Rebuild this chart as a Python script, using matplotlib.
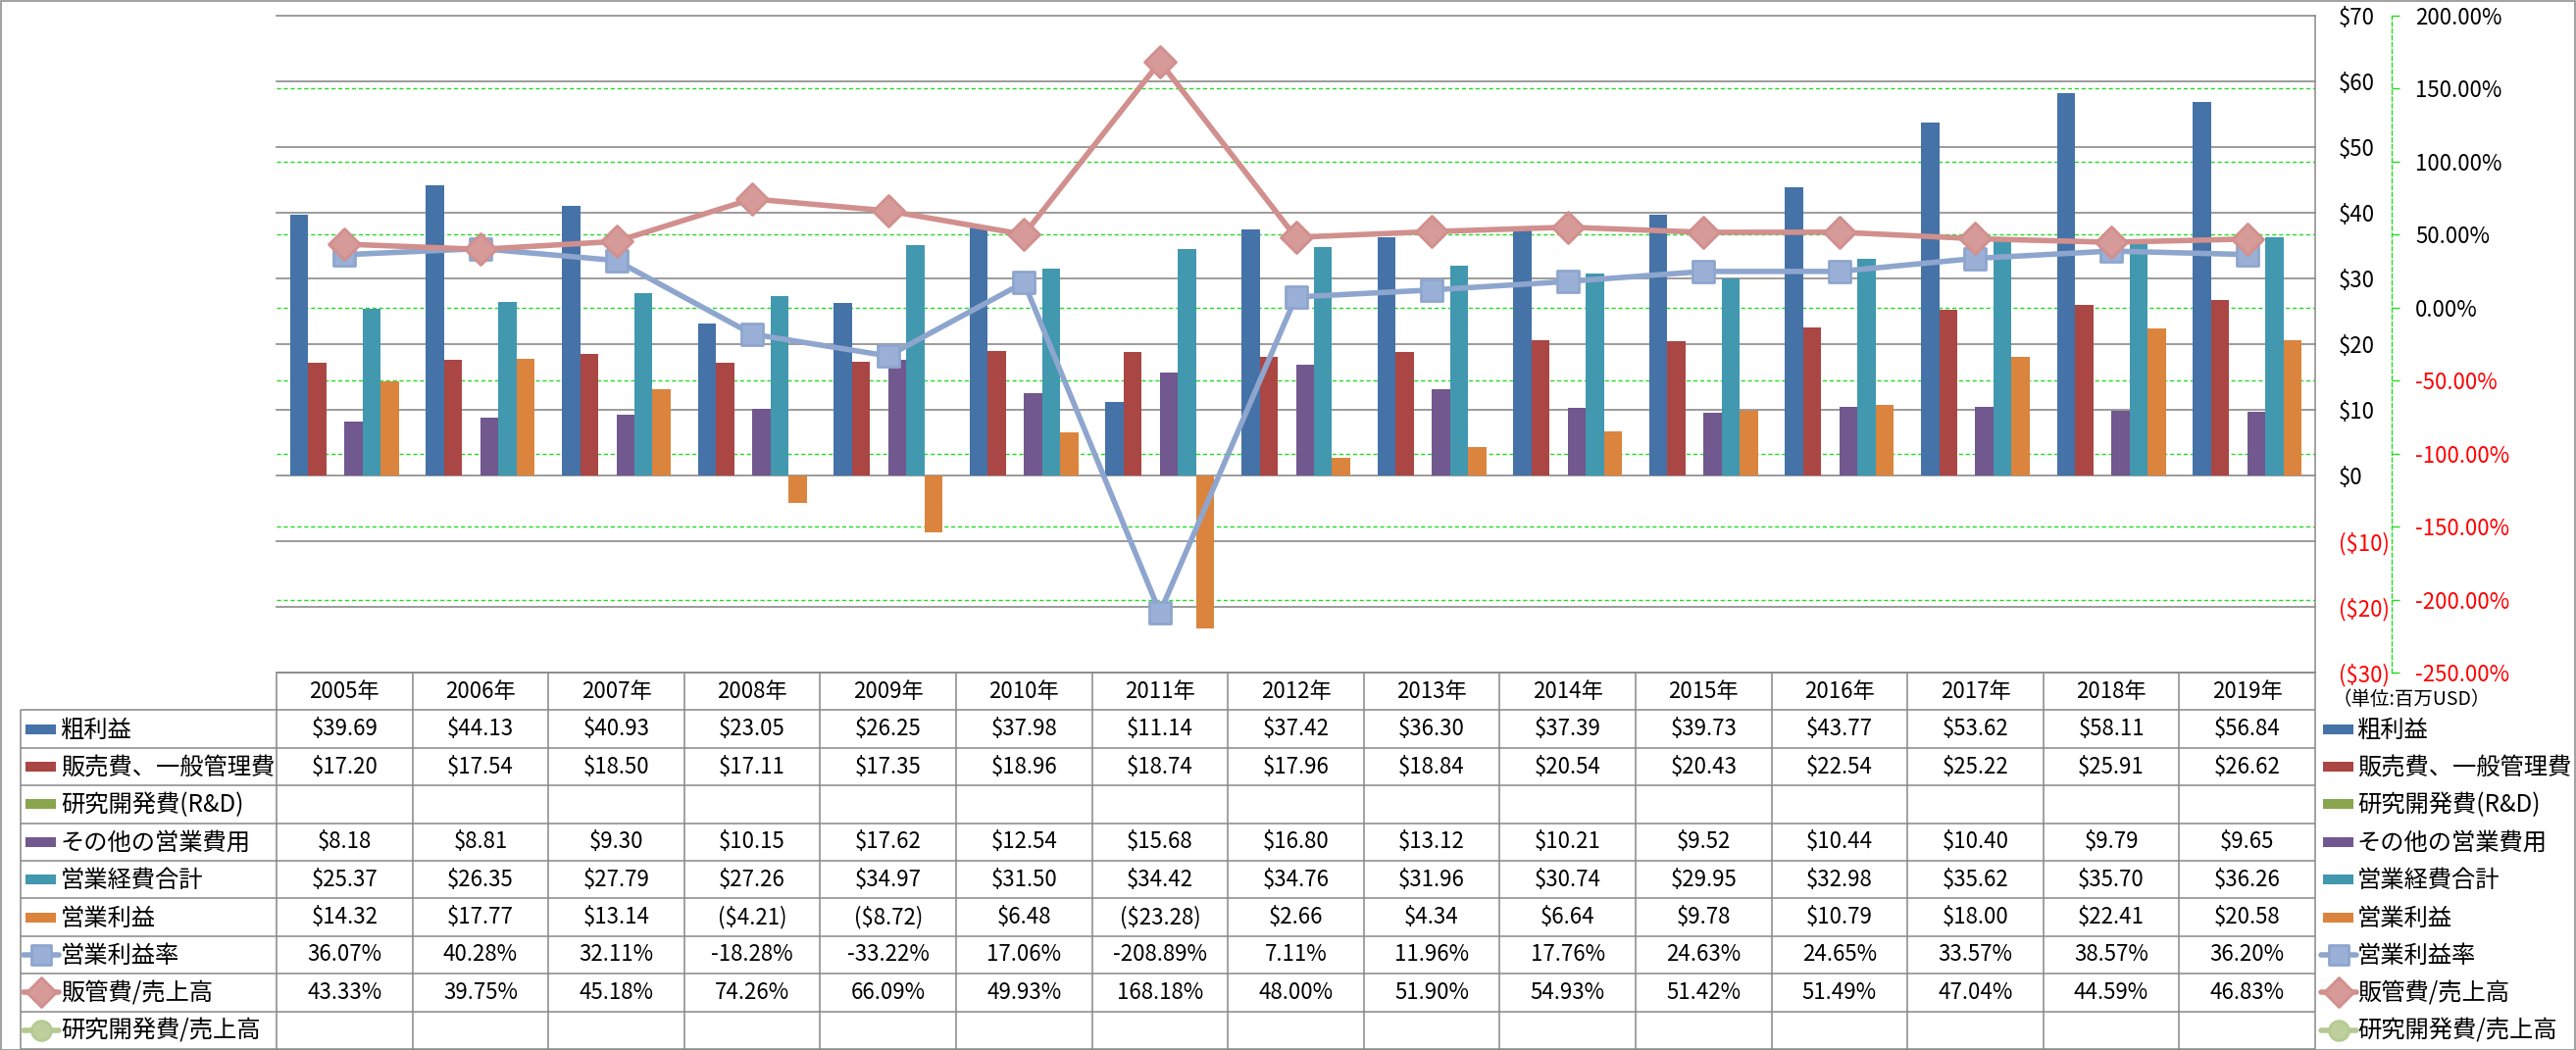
import numpy as np
import matplotlib
matplotlib.use("Agg")
import matplotlib.pyplot as plt
from matplotlib.patches import Rectangle
from matplotlib.lines import Line2D
from matplotlib.markers import MarkerStyle

plt.rcParams['font.family'] = ['Noto Sans CJK JP', 'DejaVu Sans']
plt.rcParams['text.parse_math'] = False

# ---------------- data ----------------
years = ["2005年", "2006年", "2007年", "2008年", "2009年", "2010年", "2011年", "2012年",
         "2013年", "2014年", "2015年", "2016年", "2017年", "2018年", "2019年"]
gross_profit = [39.69, 44.13, 40.93, 23.05, 26.25, 37.98, 11.14, 37.42, 36.30, 37.39, 39.73, 43.77, 53.62, 58.11, 56.84]
sga = [17.20, 17.54, 18.50, 17.11, 17.35, 18.96, 18.74, 17.96, 18.84, 20.54, 20.43, 22.54, 25.22, 25.91, 26.62]
rnd = [None] * 15
other_opex = [8.18, 8.81, 9.30, 10.15, 17.62, 12.54, 15.68, 16.80, 13.12, 10.21, 9.52, 10.44, 10.40, 9.79, 9.65]
total_opex = [25.37, 26.35, 27.79, 27.26, 34.97, 31.50, 34.42, 34.76, 31.96, 30.74, 29.95, 32.98, 35.62, 35.70, 36.26]
op_income = [14.32, 17.77, 13.14, -4.21, -8.72, 6.48, -23.28, 2.66, 4.34, 6.64, 9.78, 10.79, 18.00, 22.41, 20.58]
op_margin = [36.07, 40.28, 32.11, -18.28, -33.22, 17.06, -208.89, 7.11, 11.96, 17.76, 24.63, 24.65, 33.57, 38.57, 36.20]
sga_ratio = [43.33, 39.75, 45.18, 74.26, 66.09, 49.93, 168.18, 48.00, 51.90, 54.93, 51.42, 51.49, 47.04, 44.59, 46.83]
rnd_ratio = [None] * 15

bar_names = ["粗利益", "販売費、一般管理費", "研究開発費(R&D)", "その他の営業費用", "営業経費合計", "営業利益"]
line_names = ["営業利益率", "販管費/売上高", "研究開発費/売上高"]
dollar_ticks = list(range(-30, 71, 10))
pct_ticks = list(range(-250, 201, 50))
unit_label = "（単位:百万USD）"

bar_series = [gross_profit, sga, rnd, other_opex, total_opex, op_income]
line_series = [op_margin, sga_ratio, rnd_ratio]
bar_colors = ["#4572A7", "#AA4643", "#89A54E", "#71588F", "#4198AF", "#DB843D"]
line_colors = ["#8EA6CE", "#D18F8D", "#B5CA92"]
line_mfc = ["#9AB0D6", "#D69A98", "#BDD09C"]
line_markers = ["s", "D", "o"]

GRAY = "#888888"
GRID_GRAY = "#8A8A8A"
GREEN = "#22DD22"

def fmt_money(v):
    if v is None:
        return ""
    return f"${v:.2f}" if v >= 0 else f"(${-v:.2f})"

def fmt_pct(v):
    if v is None:
        return ""
    return f"{v:.2f}%"

def to_arr(lst):
    return np.array([np.nan if v is None else v for v in lst], dtype=float)

# ---------------- layout ----------------
W, H = 2627, 1071
DPI = 100
fig = plt.figure(figsize=(W / DPI, H / DPI), dpi=DPI)
fig.patch.set_facecolor("white")

PL, PR, PT, PB = 282, 2361, 15.6, 686
rect = [PL / W, 1 - PB / H, (PR - PL) / W, (PB - PT) / H]
n = len(years)
x = np.arange(n)
FS = 16

# percent axis (back): green grid, axis at offset
axp = fig.add_axes(rect, zorder=0)
axp.set_xlim(-0.5, n - 0.5)
axp.set_ylim(-250, 200)
axp.set_yticks(pct_ticks)
axp.yaxis.tick_right()
axp.set_xticks([])
for s in ["left", "top", "bottom"]:
    axp.spines[s].set_visible(False)
axp.spines["right"].set_position(("axes", (2439 - PL) / (PR - PL)))
axp.spines["right"].set_color(GREEN)
axp.spines["right"].set_linestyle((0, (3, 2)))
axp.spines["right"].set_linewidth(1.0)
axp.yaxis.grid(True, color=GREEN, linestyle=(0, (3, 2)), linewidth=1.0)
axp.tick_params(axis="y", direction="out", length=6, width=1.0, color=GREEN, pad=11.5, labelsize=FS)
axp.set_yticklabels([fmt_pct(v) for v in pct_ticks])
for t, v in zip(axp.yaxis.get_major_ticks(), pct_ticks):
    t.label2.set_color("#FF0000" if v < 0 else "black")
    t.tick2line.set_linestyle((0, (2, 1.5)))
    if v in (pct_ticks[0], pct_ticks[-1]):
        t.gridline.set_visible(False)

# dollar axis (middle): bars, gray grid
axd = fig.add_axes(rect, zorder=1)
axd.patch.set_visible(False)
axd.set_xlim(-0.5, n - 0.5)
axd.set_ylim(-30, 70)
axd.set_yticks(dollar_ticks)
axd.yaxis.tick_right()
axd.set_xticks([])
for s in ["left", "top", "bottom"]:
    axd.spines[s].set_visible(False)
axd.spines["right"].set_color(GRID_GRAY)
axd.spines["right"].set_linewidth(1.1)
axd.set_axisbelow(True)
axd.yaxis.grid(True, color=GRID_GRAY, linewidth=1.2)
axd.tick_params(axis="y", length=0, pad=17.3, labelsize=FS)
axd.set_yticklabels([fmt_money(v).replace(".00", "") for v in dollar_ticks])
for t, v in zip(axd.yaxis.get_major_ticks(), dollar_ticks):
    t.label2.set_color("#FF0000" if v < 0 else "black")
    t.gridline.set_clip_on(False)

nb = len(bar_series)
bw = 1.0 / (nb + 1.5)
for j, (vals, c) in enumerate(zip(bar_series, bar_colors)):
    arr = to_arr(vals)
    if np.all(np.isnan(arr)):
        continue
    axd.bar(x - nb * bw / 2 + (j + 0.5) * bw, arr, width=bw, color=c, linewidth=0, zorder=2)

# line axis (top)
axl = fig.add_axes(rect, zorder=2)
axl.patch.set_visible(False)
axl.set_xlim(-0.5, n - 0.5)
axl.set_ylim(-250, 200)
axl.axis("off")
msizes = {"s": 15.5, "D": 16.0, "o": 15.0}
for vals, c, mfc, m in zip(line_series, line_colors, line_mfc, line_markers):
    arr = to_arr(vals)
    if np.all(np.isnan(arr)):
        continue
    axl.plot(x, arr, color=c, linewidth=4.0, solid_joinstyle="round",
             marker=MarkerStyle(m, joinstyle="round"), markersize=msizes[m],
             markerfacecolor=mfc, markeredgecolor=c, markeredgewidth=2.0)

# ---------------- table ----------------
TL, TT, TB = 21, 686, 1070
colw = (PR - PL) / n
xL = -0.5 - (PL - TL) / colw
tab = fig.add_axes([TL / W, 1 - TB / H, (PR - TL) / W, (TB - TT) / H])
tab.set_xlim(xL, n - 0.5)
nrows = 1 + len(bar_names) + len(line_names)
tab.set_ylim(nrows, 0)
tab.axis("off")
LW = 1.1
tab.hlines(0, -0.5, n - 0.5, color=GRAY, lw=LW, clip_on=False)
tab.hlines(np.arange(1, nrows + 1), xL, n - 0.5, color=GRAY, lw=LW, clip_on=False)
tab.vlines(xL, 1, nrows, color=GRAY, lw=LW, clip_on=False)
tab.vlines(np.arange(-0.5, n), 0, nrows, color=GRAY, lw=LW, clip_on=False)

for i, yname in enumerate(years):
    tab.text(i, 0.5, yname, ha="center", va="center", fontsize=FS)

px = 1 / colw  # one pixel in table x-units
all_rows = [(nm, vals, fmt_money) for nm, vals in zip(bar_names, bar_series)] + \
           [(nm, vals, fmt_pct) for nm, vals in zip(line_names, line_series)]
for r, (nm, vals, f) in enumerate(all_rows, start=1):
    yc = r + 0.5
    tab.text(xL + 41 * px, yc + 0.03, nm, ha="left", va="center", fontsize=17.5)
    for i, v in enumerate(vals):
        tab.text(i, yc, f(v), ha="center", va="center", fontsize=FS)

def draw_key(ax, x0, unit, yc, k):
    if k < nb:
        ax.add_patch(Rectangle((x0 + 5 * unit, yc - 0.13), 31 * unit, 0.26,
                               facecolor=bar_colors[k], edgecolor="none", clip_on=False))
    else:
        j = k - nb
        ax.add_line(Line2D([x0 + 3 * unit, x0 + 39 * unit], [yc, yc], color=line_colors[j],
                           lw=4.0, solid_capstyle="round", clip_on=False))
        ax.add_line(Line2D([x0 + 21 * unit], [yc], marker=MarkerStyle(line_markers[j], joinstyle="round"),
                           markersize=msizes[line_markers[j]] * 0.95, markerfacecolor=line_mfc[j],
                           markeredgecolor=line_colors[j], markeredgewidth=2.0, linestyle="none",
                           clip_on=False))

for k in range(nb + len(line_names)):
    draw_key(tab, xL, px, k + 1.5, k)

# right legend
leg = fig.add_axes([PR / W, 1 - TB / H, (W - PR) / W, (TB - TT) / H])
leg.set_xlim(0, W - PR)
leg.set_ylim(nrows, 0)
leg.axis("off")
leg.text(17, 0.72, unit_label, ha="left", va="center", fontsize=14)
for k, nm in enumerate(bar_names + line_names):
    draw_key(leg, 3, 1, k + 1.5, k)
    leg.text(43, k + 1.53, nm, ha="left", va="center", fontsize=17.5)

# figure border
fig.add_artist(Rectangle((0.5 / W, 0.5 / H), (W - 1.5) / W, (H - 1.5) / H, transform=fig.transFigure,
                         facecolor="none", edgecolor=GRAY, lw=1.1))

fig.savefig("out.png", dpi=DPI)
